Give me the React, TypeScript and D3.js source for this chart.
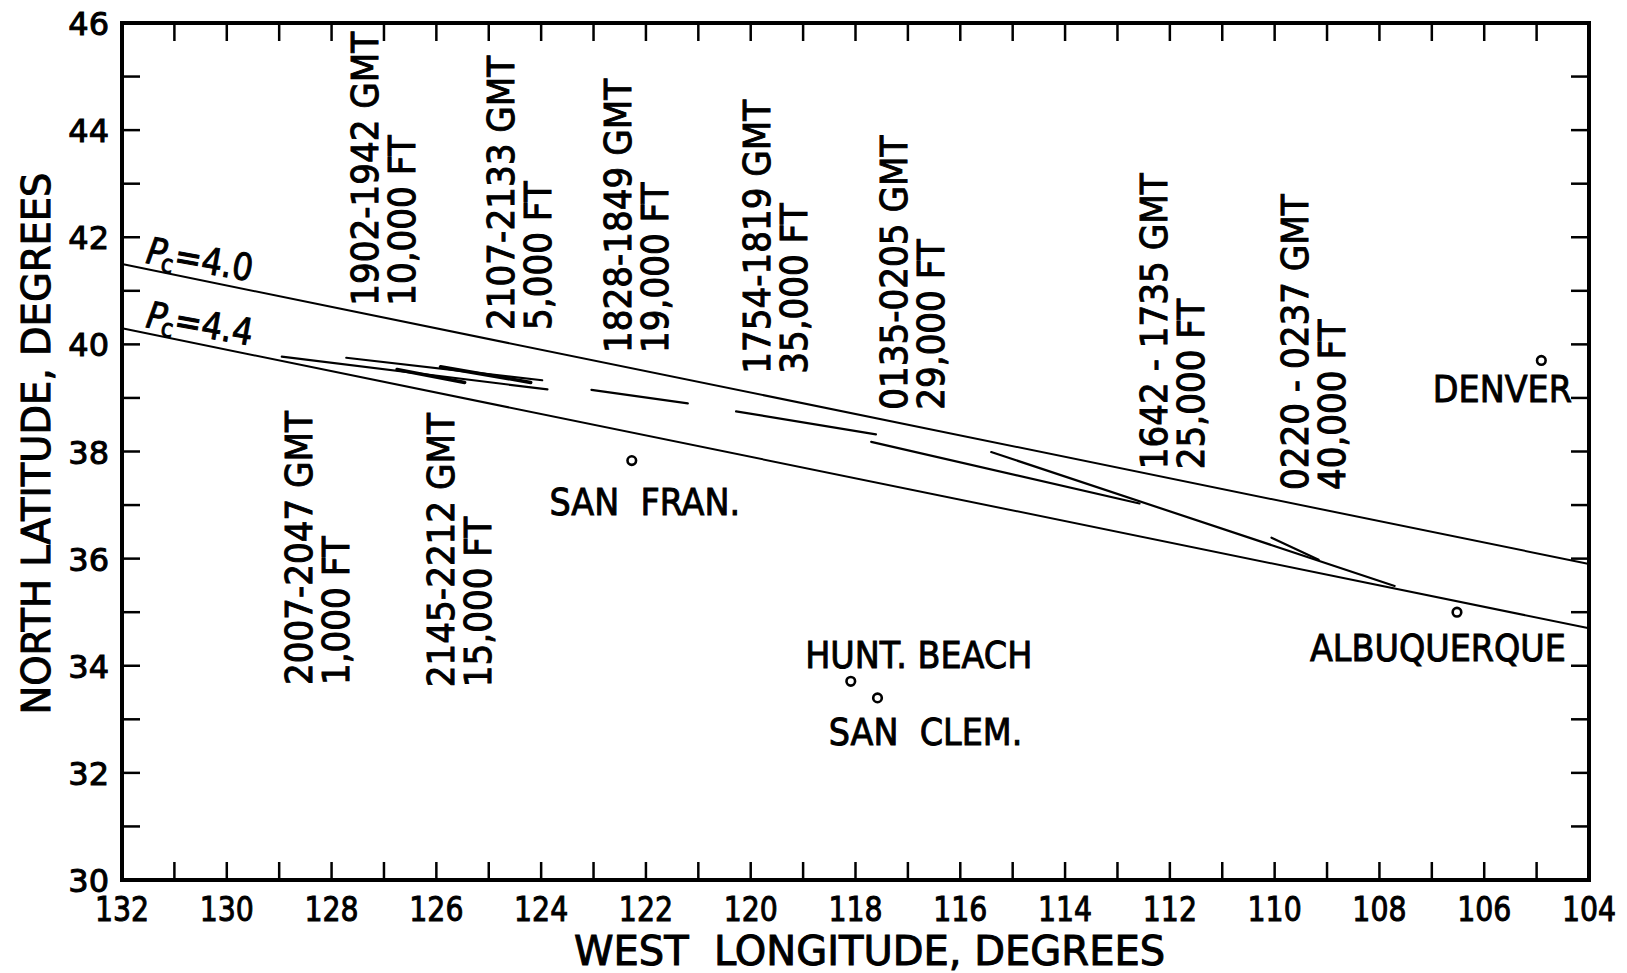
import React from "react";
import * as d3 from "d3";

// Axis ranges and labelled ticks (degrees)
const lonDomain: [number, number] = [132, 104];
const latDomain: [number, number] = [30, 46];
const lonLabels = [132, 130, 128, 126, 124, 122, 120, 118, 116, 114, 112, 110, 108, 106, 104];
const latLabels = [30, 32, 34, 36, 38, 40, 42, 44, 46];

// Cutoff-rigidity contours (west longitude, north latitude)
const pc40Line: [number, number][] = [
  [132, 41.5],
  [104, 35.9],
];
const pc44Line: [number, number][] = [
  [132, 40.3],
  [104, 34.7],
];

// Flight tracks: time window, altitude, start and end point
const flightTimes = [
  "2007-2047 GMT",
  "1902-1942 GMT",
  "2145-2212 GMT",
  "2107-2133 GMT",
  "1828-1849 GMT",
  "1754-1819 GMT",
  "0135-0205 GMT",
  "1642 - 1735 GMT",
  "0220 - 0237 GMT",
];
const flightAltitudes = [
  "1,000 FT",
  "10,000 FT",
  "15,000 FT",
  "5,000 FT",
  "19,000 FT",
  "35,000 FT",
  "29,000 FT",
  "25,000 FT",
  "40,000 FT",
];
const flightTracks: [number, number][][] = [
  [[128.95, 39.77], [123.88, 39.16]],
  [[127.72, 39.75], [123.98, 39.33]],
  [[126.75, 39.53], [125.46, 39.29]],
  [[125.92, 39.58], [124.2, 39.29]],
  [[123.04, 39.15], [121.2, 38.9]],
  [[120.28, 38.75], [117.61, 38.32]],
  [[117.7, 38.18], [112.58, 37.03]],
  [[115.41, 37.99], [107.71, 35.49]],
  [[110.06, 36.39], [109.16, 35.98]],
];
// Where each flight's caption starts (lon, lat of the caption's lower end)
const flightLabelAnchors: [number, number][] = [
  [128.37, 33.64],
  [127.11, 40.72],
  [125.66, 33.6],
  [124.52, 40.27],
  [122.28, 39.84],
  [119.63, 39.45],
  [117.02, 38.78],
  [112.05, 37.67],
  [109.36, 37.28],
];

// Stations
const cityNames = ["SAN  FRAN.", "HUNT. BEACH", "SAN  CLEM.", "DENVER", "ALBUQUERQUE"];
const cityLon = [122.27, 118.09, 117.58, 104.91, 106.52];
const cityLat = [37.83, 33.71, 33.4, 39.7, 35.0];

const W = 1627;
const H = 973;
const PLOT = { left: 122, right: 1589, top: 23, bottom: 880 };
const FONT = "'DejaVu Sans', 'Liberation Sans', sans-serif";

export default function App() {
  const x = d3.scaleLinear().domain(lonDomain).range([PLOT.left, PLOT.right]);
  const y = d3.scaleLinear().domain(latDomain).range([PLOT.bottom, PLOT.top]);
  const line = d3
    .line<[number, number]>()
    .x((d) => x(d[0]))
    .y((d) => y(d[1]));

  const lonTicks = d3.range(lonDomain[1], lonDomain[0] + 1);
  const latTicks = d3.range(latDomain[0], latDomain[1] + 1);
  const tickLen = 18;

  // label offsets (px) relative to each station marker
  const cityLabelOffset: [number, number][] = [
    [13, 54],
    [68, -13],
    [48, 47],
    [-39, 42],
    [-19, 49],
  ];
  const heavy = new Set([2, 3]);

  const textStyle = {
    fontFamily: FONT,
    fill: "#000",
    stroke: "#000",
    strokeWidth: 1,
  } as React.CSSProperties;

  return (
    <svg
      width={W}
      height={H}
      viewBox={`0 0 ${W} ${H}`}
      style={{ position: "absolute", left: 0, top: 0, background: "#fff" }}
    >
      <rect x={0} y={0} width={W} height={H} fill="#fff" />

      {/* ticks on all four sides, pointing inward */}
      <g stroke="#000" strokeWidth={2.5}>
        {lonTicks.map((t) => (
          <g key={"lx" + t}>
            <line x1={x(t)} x2={x(t)} y1={PLOT.bottom} y2={PLOT.bottom - tickLen} />
            <line x1={x(t)} x2={x(t)} y1={PLOT.top} y2={PLOT.top + tickLen} />
          </g>
        ))}
        {latTicks.map((t) => (
          <g key={"ly" + t}>
            <line x1={PLOT.left} x2={PLOT.left + tickLen} y1={y(t)} y2={y(t)} />
            <line x1={PLOT.right} x2={PLOT.right - tickLen} y1={y(t)} y2={y(t)} />
          </g>
        ))}
      </g>

      {/* frame */}
      <rect
        x={PLOT.left}
        y={PLOT.top}
        width={PLOT.right - PLOT.left}
        height={PLOT.bottom - PLOT.top}
        fill="none"
        stroke="#000"
        strokeWidth={4}
      />

      {/* tick labels */}
      <g style={{ ...textStyle, strokeWidth: 1 }}>
        {latLabels.map((t) => (
          <text key={"yl" + t} fontSize={32} x={PLOT.left - 13} y={y(t) + 12} textAnchor="end">
            {t}
          </text>
        ))}
        {lonLabels.map((t) => (
          <text
            key={"xl" + t}
            fontSize={33}
            transform={`translate(${x(t)},${PLOT.bottom + 41}) scale(0.86,1)`}
            textAnchor="middle"
          >
            {t}
          </text>
        ))}
      </g>

      {/* axis titles */}
      <text
        style={textStyle}
        fontSize={40}
        textAnchor="middle"
        x={(PLOT.left + PLOT.right) / 2 + 14}
        y={965}
        xmlSpace="preserve"
      >
        {"WEST  LONGITUDE, DEGREES"}
      </text>
      <text
        style={textStyle}
        fontSize={38.5}
        textAnchor="middle"
        transform={`translate(50,${(PLOT.top + PLOT.bottom) / 2 - 8}) rotate(-90)`}
      >
        NORTH LATITUDE, DEGREES
      </text>

      {/* cutoff rigidity contours */}
      <path d={line(pc40Line) || ""} fill="none" stroke="#000" strokeWidth={2} />
      <path d={line(pc44Line) || ""} fill="none" stroke="#000" strokeWidth={2} />
      {[
        { pts: pc40Line, v: "4.0" },
        { pts: pc44Line, v: "4.4" },
      ].map((c, i) => {
        const lon = 131.56;
        const t = (c.pts[0][0] - lon) / (c.pts[0][0] - c.pts[1][0]);
        const lat = c.pts[0][1] + t * (c.pts[1][1] - c.pts[0][1]);
        return (
          <text
            key={"pc" + i}
            style={textStyle}
            fontSize={37}
            transform={`translate(${x(lon)},${y(lat) - 6}) rotate(10) scale(0.88,1)`}
          >
            <tspan fontStyle="italic">P</tspan>
            <tspan fontSize={25} dy={6} dx={-4}>
              c
            </tspan>
            <tspan dy={-6}>={c.v}</tspan>
          </text>
        );
      })}

      {/* flight tracks */}
      {flightTracks.map((p, i) => (
        <path
          key={"tr" + i}
          d={line(p) || ""}
          fill="none"
          stroke="#000"
          strokeWidth={heavy.has(i) ? 3.6 : 2.2}
          strokeLinecap="round"
        />
      ))}

      {/* flight captions, written upward */}
      {flightLabelAnchors.map((a, i) => (
        <text
          key={"fl" + i}
          style={textStyle}
          fontSize={38}
          xmlSpace="preserve"
          transform={`translate(${x(a[0])},${y(a[1])}) rotate(-90) scale(0.9,1)`}
        >
          <tspan x={0} y={0}>
            {flightTimes[i]}
          </tspan>
          <tspan x={0} y={37}>
            {flightAltitudes[i]}
          </tspan>
        </text>
      ))}

      {/* stations */}
      {cityNames.map((name, i) => {
        const cx = x(cityLon[i]);
        const cy = y(cityLat[i]);
        const [ox, oy] = cityLabelOffset[i];
        return (
          <g key={"c" + i}>
            <circle cx={cx} cy={cy} r={4.3} fill="#fff" stroke="#000" strokeWidth={2.6} />
            <text
              style={textStyle}
              fontSize={38}
              textAnchor="middle"
              xmlSpace="preserve"
              transform={`translate(${cx + ox},${cy + oy}) scale(0.88,1)`}
            >
              {name}
            </text>
          </g>
        );
      })}
    </svg>
  );
}
